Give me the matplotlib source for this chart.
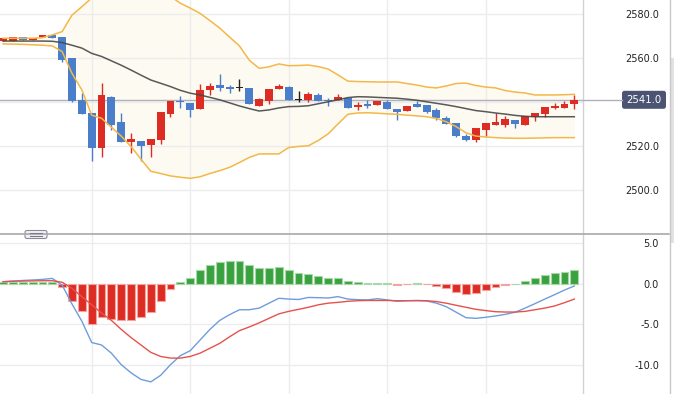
import matplotlib
matplotlib.use("Agg")
import matplotlib.pyplot as plt
import numpy as np
from matplotlib.patches import FancyBboxPatch, Rectangle
from matplotlib.lines import Line2D
import matplotlib.transforms as mtransforms

# ---------------- data ----------------
opens = [2567.5, 2567.7, 2569.5, 2568.3, 2569.4, 2570.6, 2569.5, 2560.1, 2540.9, 2535.0,
         2519.0, 2542.3, 2530.9, 2522.0, 2522.3, 2520.5, 2522.7, 2534.5, 2540.5, 2539.4,
         2536.7, 2545.5, 2547.7, 2546.8, 2546.5, 2546.4, 2538.3, 2540.5, 2546.0, 2546.8,
         2540.8, 2540.9, 2543.2, 2541.0, 2540.8, 2541.7, 2537.7, 2539.1, 2538.8, 2539.9,
         2536.8, 2536.0, 2538.9, 2538.6, 2536.4, 2532.9, 2530.3, 2524.5, 2522.7, 2527.3,
         2529.5, 2529.5, 2531.8, 2529.5, 2533.3, 2534.5, 2537.4, 2537.4, 2539.1]
closes = [2569.0, 2569.5, 2568.3, 2569.3, 2570.6, 2569.3, 2559.2, 2540.5, 2534.7, 2519.0,
          2543.2, 2529.5, 2522.0, 2523.2, 2520.1, 2523.2, 2535.6, 2540.5, 2539.8, 2536.5,
          2545.5, 2547.3, 2546.5, 2546.0, 2546.5, 2539.0, 2541.5, 2545.9, 2547.3, 2540.8,
          2540.8, 2543.6, 2540.6, 2540.6, 2542.3, 2537.4, 2538.6, 2538.3, 2540.3, 2536.7,
          2535.6, 2538.2, 2537.9, 2535.6, 2532.6, 2529.9, 2524.5, 2522.7, 2528.0, 2530.3,
          2530.9, 2532.3, 2529.9, 2533.6, 2534.9, 2537.6, 2538.3, 2539.1, 2541.0]
highs = [2569.0, 2569.5, 2569.5, 2569.3, 2570.6, 2570.6, 2569.5, 2560.1, 2544.0, 2535.0,
         2548.5, 2542.7, 2534.9, 2526.0, 2522.3, 2523.2, 2535.6, 2540.5, 2542.7, 2539.4,
         2548.2, 2548.5, 2552.6, 2547.7, 2550.5, 2546.4, 2541.8, 2545.9, 2548.0, 2547.2,
         2545.1, 2544.7, 2544.0, 2542.0, 2543.6, 2541.7, 2539.9, 2541.0, 2540.3, 2541.0,
         2536.8, 2538.2, 2540.6, 2538.6, 2537.1, 2533.6, 2530.3, 2525.5, 2528.0, 2530.3,
         2535.1, 2533.6, 2531.8, 2533.6, 2534.9, 2537.6, 2539.4, 2540.5, 2543.2]
lows = [2567.5, 2567.7, 2568.3, 2568.3, 2569.4, 2569.3, 2558.3, 2540.1, 2534.4, 2513.2,
        2514.9, 2527.3, 2522.0, 2516.8, 2513.3, 2515.1, 2520.9, 2533.3, 2537.4, 2533.3,
        2536.7, 2543.2, 2545.1, 2544.0, 2545.1, 2539.0, 2538.3, 2539.1, 2546.0, 2540.8,
        2540.1, 2540.1, 2540.6, 2538.3, 2540.8, 2537.4, 2536.4, 2537.4, 2538.8, 2536.7,
        2531.8, 2536.0, 2537.9, 2535.1, 2531.8, 2529.9, 2524.2, 2522.4, 2522.0, 2524.5,
        2529.5, 2528.8, 2528.3, 2529.5, 2531.5, 2533.3, 2537.0, 2537.4, 2536.7]

ma_mid = [2567.7, 2567.7, 2567.7, 2567.7, 2567.7, 2567.6, 2567.0, 2565.8, 2564.5, 2562.1,
          2560.7, 2558.7, 2556.7, 2554.5, 2552.2, 2550.0, 2548.5, 2547.0, 2545.3, 2544.0,
          2543.2, 2542.1, 2541.0, 2539.6, 2538.2, 2537.0, 2535.9, 2536.4, 2537.3, 2537.9,
          2538.0, 2538.3, 2539.2, 2540.1, 2541.0, 2542.0, 2542.4, 2542.3, 2542.1, 2541.9,
          2541.7, 2541.3, 2540.8, 2540.1, 2539.4, 2538.7, 2537.9, 2537.0, 2536.1, 2535.6,
          2535.0, 2534.5, 2533.9, 2533.5, 2533.3, 2533.3, 2533.3, 2533.3, 2533.3]
band_upper = [2569.0, 2569.0, 2569.0, 2569.0, 2569.2, 2570.5, 2572.0, 2579.5, 2583.3, 2587.3,
              2589.5, 2591.0, 2592.0, 2592.2, 2592.0, 2591.0, 2590.0, 2588.0, 2584.9, 2582.7,
              2580.3, 2577.0, 2573.6, 2569.5, 2565.5, 2559.0, 2555.3, 2556.0, 2557.3, 2556.5,
              2556.6, 2556.8, 2556.1, 2555.0, 2552.3, 2549.5, 2549.3, 2549.2, 2549.1, 2549.1,
              2549.1, 2548.4, 2547.7, 2546.8, 2546.4, 2547.3, 2548.4, 2548.6, 2547.5, 2546.8,
              2546.4, 2545.2, 2544.5, 2544.1, 2543.2, 2543.2, 2543.2, 2543.3, 2543.5]
band_lower = [2566.4, 2566.3, 2566.2, 2566.0, 2565.8, 2565.5, 2562.9, 2553.0, 2545.5, 2534.0,
              2532.6, 2528.5, 2524.5, 2519.7, 2514.0, 2508.5, 2507.5, 2506.4, 2505.8, 2505.3,
              2506.0, 2507.5, 2508.8, 2510.3, 2512.5, 2514.8, 2516.4, 2516.4, 2516.4, 2519.3,
              2519.8, 2520.1, 2522.5, 2525.5, 2530.0, 2534.4, 2535.0, 2535.1, 2534.9, 2534.6,
              2534.4, 2534.0, 2533.7, 2533.3, 2532.5, 2531.0, 2528.8, 2526.0, 2524.5, 2524.1,
              2523.8, 2523.6, 2523.5, 2523.5, 2523.6, 2523.7, 2523.8, 2523.8, 2523.8]

macd_line = [0.22, 0.30, 0.37, 0.43, 0.50, 0.62, -0.2, -2.5, -4.6, -7.2,
             -7.5, -8.5, -9.9, -10.9, -11.7, -12.0, -11.2, -9.9, -8.8, -8.2,
             -6.9, -5.6, -4.5, -3.8, -3.2, -3.2, -3.0, -2.4, -1.8, -1.9,
             -1.95, -1.7, -1.73, -1.77, -1.6, -1.9, -1.97, -2.0, -1.85, -2.0,
             -2.17, -2.1, -2.1, -2.13, -2.4, -2.83, -3.5, -4.17, -4.25, -4.12,
             -3.96, -3.76, -3.5, -3.0, -2.46, -1.9, -1.36, -0.8, -0.3]
signal_line = [0.22, 0.27, 0.30, 0.32, 0.34, 0.34, 0.15, -0.6, -1.6, -2.6,
               -3.6, -4.5, -5.6, -6.6, -7.5, -8.4, -8.9, -9.1, -9.1, -8.9,
               -8.5, -7.9, -7.3, -6.5, -5.75, -5.3, -4.8, -4.25, -3.7, -3.4,
               -3.15, -2.9, -2.6, -2.4, -2.3, -2.17, -2.1, -2.07, -2.07, -2.07,
               -2.1, -2.1, -2.07, -2.1, -2.2, -2.4, -2.66, -2.9, -3.15, -3.3,
               -3.44, -3.48, -3.48, -3.4, -3.2, -3.0, -2.74, -2.34, -1.9]
macd_hist = [0.15, 0.15, 0.15, 0.15, 0.15, 0.15, -0.4, -2.1, -3.3, -4.9,
             -4.1, -4.3, -4.5, -4.4, -4.1, -3.5, -2.1, -0.7, 0.2, 0.7,
             1.6, 2.3, 2.6, 2.7, 2.7, 2.2, 1.9, 1.9, 2.0, 1.6,
             1.25, 1.15, 0.9, 0.65, 0.65, 0.35, 0.2, 0.1, 0.12, 0.02,
             -0.15, -0.05, 0.03, -0.03, -0.3, -0.6, -1.0, -1.3, -1.1, -0.8,
             -0.45, -0.15, 0.0, 0.35, 0.65, 1.05, 1.25, 1.45, 1.6]

price_ticks = [2500, 2520, 2560, 2580]
price_tick_labels = ["2500.0", "2520.0", "2560.0", "2580.0"]
price_grid = [2500, 2520, 2540, 2560, 2580]
macd_ticks = [5, 0, -5, -10]
macd_tick_labels = ["5.0", "0.0", "-5.0", "-10.0"]
last_price = 2541.0
last_price_label = "2541.0"
vgrid_idx = [9, 19, 29, 39, 49]

# ---------------- style ----------------
RED = "#dd2c23"
BLUE = "#4a7ecb"
DOJI = "#222222"
BAND = "#f3b848"
FILL = "#fdfaf2"
MA_C = "#474747"
GRID = "#ececec"
GREEN = "#39a23e"

W, H = 674, 394
fig = plt.figure(figsize=(W / 100, H / 100), dpi=100)
fig.patch.set_facecolor("white")

ax = fig.add_axes([0, 1 - 234 / H, 583 / W, 234 / H])
ax2 = fig.add_axes([0, 0, 583 / W, 160 / H])

x = np.arange(len(opens))
o = np.array(opens); c = np.array(closes)
cols = [RED if cc > oo else (BLUE if cc < oo else DOJI) for oo, cc in zip(o, c)]

XL = (-0.31, 58.88)
for a in (ax, ax2):
    a.set_xlim(*XL)
    a.set_xticks([])
    a.set_facecolor("white")
    for s in ("left", "top", "bottom"):
        a.spines[s].set_visible(False)
    a.spines["right"].set_color("#d2d2d6")
    a.spines["right"].set_linewidth(1)
    for vi in vgrid_idx:
        a.axvline(vi, color=GRID, lw=1, zorder=1)

# ---- price panel ----
ax.set_ylim(2480, 2586.36)
ax.fill_between(x, band_lower, band_upper, color=FILL, lw=0, zorder=0.5)
for v in price_grid:
    ax.axhline(v, color=GRID, lw=1, zorder=1)
ax.axhline(last_price, color="#aeb0ba", lw=1, zorder=1.5)

ax.vlines(x, lows, highs, colors=cols, lw=1, zorder=2)
ax.bar(x, np.maximum(np.abs(c - o), 0.45), bottom=np.minimum(o, c), width=0.8,
       color=cols, lw=0, zorder=3)
ax.plot(x, band_upper, color=BAND, lw=1.1, zorder=4)
ax.plot(x, band_lower, color=BAND, lw=1.1, zorder=4)
ax.plot(x, ma_mid, color=MA_C, lw=1.1, alpha=0.9, zorder=4)

# ---- MACD panel ----
ax2.set_ylim(-13.48, 6.04)
for v in macd_ticks:
    ax2.axhline(v, color=GRID, lw=1, zorder=1)
hist = np.array(macd_hist)
hcol = [GREEN if h >= 0 else RED for h in hist]
hedge = ["#a8d8a8" if h >= 0 else "#f2a5a0" for h in hist]
ax2.bar(x, hist, width=0.8, color=hcol, edgecolor=hedge, lw=0.8, zorder=2)
ax2.plot(x, macd_line, color="#6f9ddb", lw=1.0, zorder=3)
ax2.plot(x, signal_line, color="#e5524c", lw=1.0, zorder=3)

# ---- tick labels (right side) ----
pad_pt = (659 - 583) * 72 / 100
for a, ticks, labels in ((ax, price_ticks, price_tick_labels), (ax2, macd_ticks, macd_tick_labels)):
    a.yaxis.tick_right()
    a.set_yticks(ticks)
    a.set_yticklabels(labels)
    a.tick_params(axis="y", length=0, pad=pad_pt, labelsize=7, labelcolor="#222222")
    for lab in a.get_yticklabels():
        lab.set_horizontalalignment("right")

# ---------------- figure-level decorations (pixel coords, y from top) ----------------
ID = mtransforms.IdentityTransform()
def L(x0, y0, x1, y1, **kw):
    fig.add_artist(Line2D([x0, x1], [H - y0, H - y1], transform=ID, **kw))

# divider between panels
L(0, 234, 669, 234, color="#a8a8ac", lw=1.2)
# right outer border
L(669.5, 0, 669.5, 394, color="#c8c8cc", lw=1)
# scrollbar hint
fig.add_artist(Rectangle((670, H - 243), 4, 185, transform=ID, color="#e2e2e6", lw=0))
# last price line extension toward label
ylp = ax.transData.transform((0, last_price))[1]
fig.add_artist(Line2D([583, 622], [ylp, ylp], transform=ID, color="#aeb0ba", lw=1))
# last price label
fig.add_artist(FancyBboxPatch((622, ylp - 9), 44, 18, transform=ID,
                              boxstyle="round,pad=0,rounding_size=2.5",
                              fc="#4b5573", ec="none"))
fig.text(644 / W, ylp / H, last_price_label, color="white", fontsize=7.3,
         ha="center", va="center")
# panel resize handle
fig.add_artist(FancyBboxPatch((25, H - 238.5), 22, 8, transform=ID,
                              boxstyle="round,pad=0,rounding_size=2",
                              fc="#f2f2f6", ec="#8c8c98", lw=0.8))
L(30, 233, 42, 233, color="#7c7c88", lw=0.8)
L(30, 235.5, 42, 235.5, color="#7c7c88", lw=0.8)

fig.savefig("out.png", dpi=100, facecolor="white")
